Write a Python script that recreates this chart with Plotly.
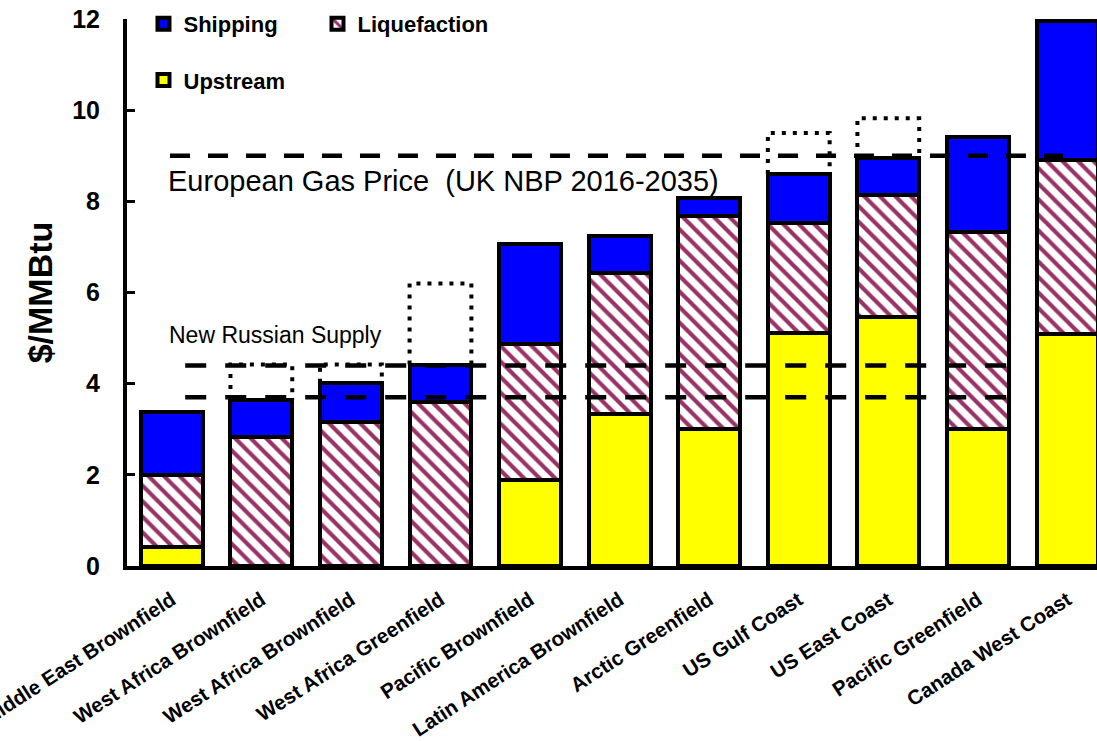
import plotly.graph_objects as go

categories = ["Middle East Brownfield", "West Africa Brownfield", "West Africa Brownfield",
              "West Africa Greenfield", "Pacific Brownfield", "Latin America Brownfield",
              "Arctic Greenfield", "US Gulf Coast", "US East Coast", "Pacific Greenfield",
              "Canada West Coast"]
upstream = [0.42, 0.0, 0.0, 0.0, 1.88, 3.33, 3.00, 5.12, 5.47, 3.00, 5.08]
liquefaction = [1.58, 2.84, 3.17, 3.60, 2.98, 3.09, 4.68, 2.41, 2.68, 4.32, 3.82]
shipping = [1.37, 0.80, 0.85, 0.82, 2.21, 0.83, 0.39, 1.07, 0.80, 2.10, 3.05]
range_top = [None, 4.42, 4.42, 6.20, None, None, None, 9.50, 9.82, None, None]
european_price = 9.0
russian_supply = [4.4, 3.7]
y_ticks = [0, 2, 4, 6, 8, 10, 12]

FONT = "Arial, Liberation Sans, sans-serif"
xs = list(range(len(categories)))
BAR_W = 0.69
LINE = dict(color="black", width=4)

fig = go.Figure()
fig.add_bar(x=xs, y=upstream, name="Upstream", width=BAR_W,
            marker=dict(color="#FFFF00", line=LINE), legend="legend2")
fig.add_bar(x=xs, y=liquefaction, name="Liquefaction", width=BAR_W,
            marker=dict(color="white", line=LINE,
                        pattern=dict(shape="\\", fgcolor="#993366", bgcolor="white",
                                     fgopacity=1, fillmode="replace",
                                     size=11, solidity=0.38)),
            legend="legend", legendrank=2)
fig.add_bar(x=xs, y=shipping, name="Shipping", width=BAR_W,
            marker=dict(color="#0000FF", line=LINE), legend="legend", legendrank=1)

# dotted range boxes above bars
totals = [u + l + s for u, l, s in zip(upstream, liquefaction, shipping)]
bx, by = [], []
for i, (t, r) in enumerate(zip(totals, range_top)):
    if r is None:
        continue
    h = BAR_W / 2
    bx += [i - h, i - h, i + h, i + h, None]
    by += [t, r, r, t, None]
fig.add_scatter(x=bx, y=by, mode="lines", showlegend=False, hoverinfo="skip",
                line=dict(color="black", width=4, dash="4px,7px"))

# reference lines
fig.add_scatter(x=[-0.02, 9.95], y=[european_price] * 2, mode="lines", showlegend=False,
                line=dict(color="black", width=4.5, dash="20px,18px"))
for v in russian_supply:
    fig.add_scatter(x=[0.15, 9.4], y=[v, v], mode="lines", showlegend=False,
                    line=dict(color="black", width=4.5, dash="21px,19px"))

fig.add_annotation(x=-0.06, y=8.45, xref="x", yref="y", xanchor="left", yanchor="middle",
                   text="European Gas Price\u00a0 (UK NBP 2016-2035)", showarrow=False,
                   font=dict(family=FONT, size=29, color="black"))
fig.add_annotation(x=-0.05, y=5.07, xref="x", yref="y", xanchor="left", yanchor="middle",
                   text="New Russian Supply", showarrow=False,
                   font=dict(family=FONT, size=23, color="black"))

fig.update_layout(
    width=1097, height=741,
    margin=dict(l=127, r=0, t=19, b=175, autoexpand=False),
    paper_bgcolor="white", plot_bgcolor="white",
    barmode="stack", bargap=0.31,
    font=dict(family=FONT, color="black"),
    legend=dict(orientation="h", x=0.017, xanchor="left", y=0.991, yanchor="middle",
                bgcolor="rgba(0,0,0,0)", entrywidth=129, traceorder="normal",
                font=dict(family=FONT, size=22, color="black", weight="bold")),
    legend2=dict(orientation="h", x=0.017, xanchor="left", y=0.888, yanchor="middle",
                 bgcolor="rgba(0,0,0,0)",
                 font=dict(family=FONT, size=22, color="black", weight="bold")),
    xaxis=dict(range=[-0.5, 10.33], tickvals=xs, ticktext=categories, tickangle=-33,
               showline=True, linecolor="black", linewidth=4, ticks="", showgrid=False,
               zeroline=False, ticklabelstandoff=10, ticklabeloverflow="allow",
               automargin=False,
               tickfont=dict(family=FONT, size=20.5, color="black", weight="bold")),
    yaxis=dict(range=[0, 12], tickvals=y_ticks, showline=True, linecolor="black", linewidth=4,
               ticks="inside", ticklen=8, tickwidth=3, tickcolor="black", showgrid=False,
               zeroline=False, ticklabelstandoff=18, automargin=False,
               tickfont=dict(family=FONT, size=25, color="black", weight="bold"),
               title=dict(text="$/MMBtu", standoff=10,
                          font=dict(family=FONT, size=34, color="black", weight="bold"))),
)

fig.write_html("out.html")
